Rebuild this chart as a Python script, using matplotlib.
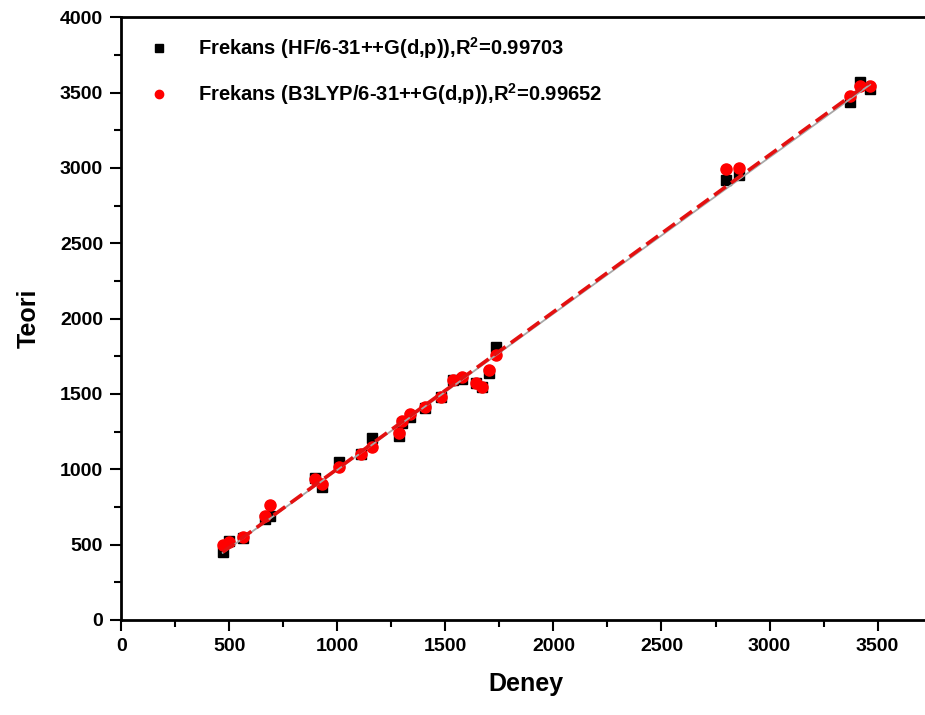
import numpy as np
import matplotlib
matplotlib.use("Agg")
import matplotlib.pyplot as plt
from matplotlib.ticker import MultipleLocator

# Deney (experimental) vs Teori (calculated) frequencies
deney = [470, 500, 565, 667, 690, 895, 930, 1010, 1110, 1160, 1285, 1300, 1335,
         1405, 1480, 1535, 1575, 1640, 1670, 1700, 1735, 2800, 2860, 3370, 3420, 3465]
hf = [450, 525, 545, 670, 690, 945, 880, 1045, 1100, 1210, 1220, 1305, 1345,
      1405, 1480, 1595, 1600, 1575, 1545, 1640, 1810, 2920, 2955, 3440, 3570, 3520]
b3lyp = [500, 515, 550, 690, 765, 935, 905, 1015, 1100, 1150, 1240, 1320, 1365,
         1410, 1480, 1590, 1610, 1575, 1545, 1660, 1760, 2990, 3000, 3480, 3545, 3540]

hf_label = r"Frekans (HF/6-31++G(d,p)),R$^{\mathbf{2}}$=0.99703"
b3_label = r"Frekans (B3LYP/6-31++G(d,p)),R$^{\mathbf{2}}$=0.99652"

plt.rcParams['font.family'] = ['Liberation Sans', 'DejaVu Sans']
plt.rcParams['font.weight'] = 'bold'
plt.rcParams['mathtext.fontset'] = 'custom'
plt.rcParams['mathtext.bf'] = 'Liberation Sans:bold'
plt.rcParams['mathtext.rm'] = 'Liberation Sans:bold'

fig = plt.figure(figsize=(9.25, 7.15), dpi=100)
ax = fig.add_axes([0.131, 0.133, 0.875, 0.843])

x = np.array(deney, dtype=float)
xs = np.array([x.min(), x.max()])

# linear fits
p_hf = np.polyfit(x, hf, 1)
p_b3 = np.polyfit(x, b3lyp, 1)

ax.plot(x, hf, 's', color='black', markersize=7.5, label=hf_label, zorder=3)
ax.plot(x, b3lyp, 'o', color='red', markersize=8, label=b3_label, zorder=4)
ax.plot(xs, np.polyval(p_hf, xs), '-', color='#a8a8a8', lw=1.3, zorder=5)
ax.plot(xs, np.polyval(p_b3, xs), color='#e41010', lw=2.6, dashes=(4, 1.8), zorder=6)

ax.set_xlim(0, 3745)
ax.set_ylim(0, 4000)
ax.xaxis.set_major_locator(MultipleLocator(500))
ax.xaxis.set_minor_locator(MultipleLocator(250))
ax.yaxis.set_major_locator(MultipleLocator(500))
ax.yaxis.set_minor_locator(MultipleLocator(250))

ax.tick_params(which='major', direction='out', length=8, width=1.5, labelsize=14, pad=5)
ax.tick_params(which='minor', direction='out', length=5, width=1.5)
for sp in ax.spines.values():
    sp.set_linewidth(2)
ax.spines['right'].set_visible(False)

for lab in ax.get_xticklabels() + ax.get_yticklabels():
    lab.set_fontweight('bold')

ax.set_xlabel('Deney', fontsize=18, fontweight='bold', labelpad=12)
ax.set_ylabel('Teori', fontsize=18, fontweight='bold', labelpad=14)

leg = ax.legend(loc='upper left', frameon=False, fontsize=14.5, labelspacing=1.0,
                handletextpad=0.9, borderaxespad=0.5, bbox_to_anchor=(0.0, 1.0),
                markerscale=0.75)
for t in leg.get_texts():
    t.set_fontweight('bold')

fig.savefig('out.png', dpi=100)
